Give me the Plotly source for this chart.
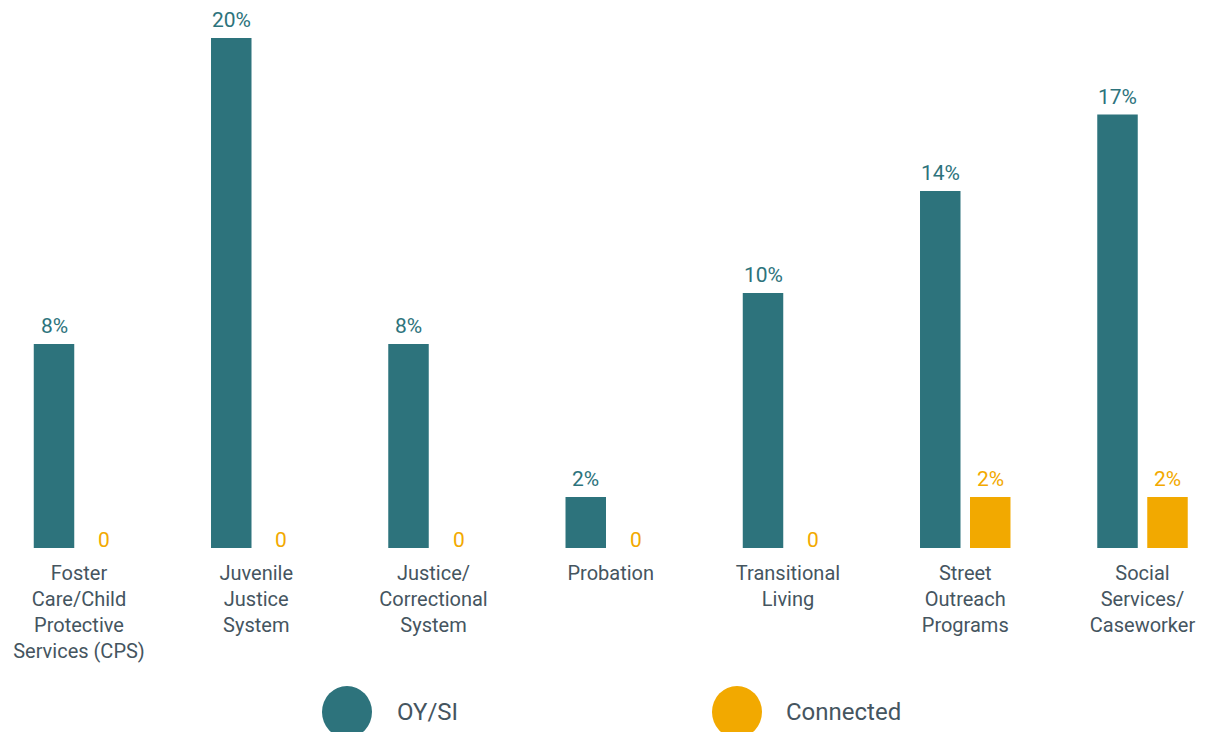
import plotly.graph_objects as go

categories = [
    "Foster<br>Care/Child<br>Protective<br>Services (CPS)",
    "Juvenile<br>Justice<br>System",
    "Justice/<br>Correctional<br>System",
    "Probation",
    "Transitional<br>Living",
    "Street<br>Outreach<br>Programs",
    "Social<br>Services/<br>Caseworker",
]
oy_si = [8, 20, 8, 2, 10, 14, 17]
connected = [0, 0, 0, 0, 0, 2, 2]
series_names = ["OY/SI", "Connected"]

TEAL = "#2d737c"
GOLD = "#f2a900"
LABEL = "#45555f"
FONT = "Roboto, Arial, sans-serif"
W, H = 1206, 732
PLOT_BOTTOM = 548  # pixel row of the bar baseline
SLOT = 50          # pixel distance between bar centres within a group


def pct_text(v):
    return f"{v}%" if v else "0"


fig = go.Figure()
for k, (name, vals, col) in enumerate(
        [(series_names[0], oy_si, TEAL), (series_names[1], connected, GOLD)]):
    fig.add_trace(go.Bar(
        x=categories, y=vals, name=name,
        marker=dict(color=col, line=dict(width=0)),
        showlegend=False, hoverinfo="skip",
    ))
    # value labels above each bar; zero values sit right on the baseline
    shift_x = (k - 0.5) * SLOT
    for cat, v in zip(categories, vals):
        fig.add_annotation(
            x=cat, y=v, xref="x", yref="y", xshift=shift_x,
            yshift=4 if v else -6,
            xanchor="center", yanchor="bottom", showarrow=False,
            text=pct_text(v), font=dict(size=21, color=col, family=FONT),
        )

step = 177.25
x_first = 79
fig.update_layout(
    width=W, height=H,
    margin=dict(l=0, r=0, t=0, b=H - PLOT_BOTTOM),
    plot_bgcolor="white", paper_bgcolor="white",
    barmode="group", bargap=0.436, bargroupgap=0.19,
    font=dict(family=FONT, color=LABEL),
    xaxis=dict(
        range=[-x_first / step, 6 + (W - x_first - 6 * step) / step],
        showgrid=False, showline=False, zeroline=False, ticks="",
        ticklabelstandoff=11,
        tickfont=dict(size=20, color=LABEL, family=FONT),
    ),
    yaxis=dict(range=[0, PLOT_BOTTOM / 25.5], visible=False),
)

# legend drawn as large dots with labels underneath the chart
legend_y_px = 712
yanchor = (PLOT_BOTTOM - legend_y_px) / PLOT_BOTTOM
for (cx, tx, label, col) in [(347, 395, series_names[0], TEAL), (737, 784, series_names[1], GOLD)]:
    fig.add_shape(
        type="circle", xref="paper", yref="paper",
        xsizemode="pixel", ysizemode="pixel",
        xanchor=cx / W, yanchor=yanchor,
        x0=-25, x1=25, y0=-26, y1=26,
        fillcolor=col, line=dict(width=0),
    )
    fig.add_annotation(
        x=tx / W, y=yanchor, xref="paper", yref="paper",
        xanchor="left", yanchor="middle", showarrow=False,
        text=label, font=dict(size=24, color=LABEL, family=FONT),
    )

fig.write_html("out.html")
